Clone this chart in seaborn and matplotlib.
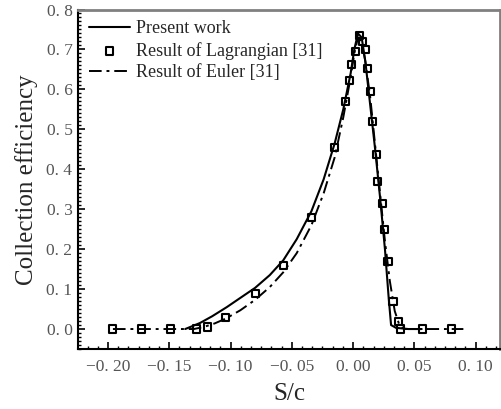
import numpy as np
import pandas as pd
import matplotlib
matplotlib.use("Agg")
import matplotlib.pyplot as plt
from matplotlib.ticker import FixedLocator, AutoMinorLocator, FuncFormatter
import seaborn as sns

# Present work (solid line)
present_s = [-0.137, -0.125, -0.115, -0.103, -0.092, -0.080, -0.068, -0.057,
             -0.046, -0.034, -0.024, -0.015, -0.008, -0.002, 0.001, 0.004,
             0.007, 0.010, 0.014, 0.018, 0.022, 0.026, 0.029, 0.031, 0.035,
             0.045, 0.056]
present_beta = [0.0, 0.015, 0.032, 0.055, 0.078, 0.103, 0.135, 0.172,
                0.225, 0.295, 0.375, 0.465, 0.55, 0.64, 0.70, 0.74,
                0.73, 0.67, 0.56, 0.45, 0.33, 0.20, 0.08, 0.01, 0.003,
                0.0, 0.0]

# Lagrangian reference results (open squares)
lag_s = [-0.196, -0.173, -0.149, -0.128, -0.119, -0.104, -0.080, -0.057, -0.034,
         -0.015, -0.0065, -0.003, -0.001, 0.0016, 0.005, 0.008, 0.010, 0.012,
         0.014, 0.016, 0.019, 0.020, 0.024, 0.026, 0.0285, 0.0326, 0.0367,
         0.039, 0.057, 0.080]
lag_beta = [0.0, 0.0, 0.0, 0.0, 0.005, 0.03, 0.09, 0.16, 0.28,
            0.455, 0.57, 0.622, 0.662, 0.695, 0.735, 0.72, 0.70, 0.652,
            0.595, 0.52, 0.4375, 0.37, 0.315, 0.25, 0.168, 0.07, 0.02,
            0.0, 0.0, 0.0]

# Eulerian reference results (dash-dot line)
euler_s = [-0.196, -0.13, -0.122, -0.113, -0.104, -0.092, -0.080, -0.068,
           -0.057, -0.046, -0.034, -0.024, -0.015, -0.008, -0.002, 0.001,
           0.004, 0.007, 0.010, 0.014, 0.018, 0.022, 0.026, 0.030, 0.034,
           0.038, 0.042, 0.09]
euler_beta = [0.0, 0.0, 0.005, 0.014, 0.026, 0.047, 0.073, 0.105,
              0.142, 0.19, 0.26, 0.34, 0.43, 0.53, 0.63, 0.69,
              0.73, 0.72, 0.67, 0.58, 0.46, 0.34, 0.22, 0.12, 0.045,
              0.008, 0.0, 0.0]

x_ticks = [-0.20, -0.15, -0.10, -0.05, 0.00, 0.05, 0.10]
y_ticks = [0.0, 0.1, 0.2, 0.3, 0.4, 0.5, 0.6, 0.7, 0.8]

sns.set_style("ticks")
plt.rcParams["font.family"] = ["Liberation Serif", "DejaVu Serif"]

fig = plt.figure(figsize=(5.01, 4.09), dpi=100)
ax = fig.add_axes([78 / 501, 1 - 349 / 409, 422 / 501, 339.5 / 409])

df_present = pd.DataFrame({"s": present_s, "beta": present_beta})
df_lag = pd.DataFrame({"s": lag_s, "beta": lag_beta})
df_euler = pd.DataFrame({"s": euler_s, "beta": euler_beta})

sns.lineplot(data=df_present, x="s", y="beta", ax=ax, color="black", lw=1.5,
             sort=False, label="Present work")
sns.scatterplot(data=df_lag, x="s", y="beta", ax=ax, marker="s", s=26,
                facecolor="none", edgecolor="black", linewidth=1.5,
                label="Result of Lagrangian [31]", zorder=3)
sns.lineplot(data=df_euler, x="s", y="beta", ax=ax, color="black", lw=1.4,
             sort=False, linestyle=(0, (6.5, 2.5, 1.5, 2.5)),
             label="Result of Euler [31]")

ax.set_xlim(-0.2245, 0.1199)
ax.set_ylim(-0.05, 0.80)

ax.xaxis.set_major_locator(FixedLocator(x_ticks))
ax.yaxis.set_major_locator(FixedLocator(y_ticks))
ax.xaxis.set_minor_locator(AutoMinorLocator(6))
ax.yaxis.set_minor_locator(AutoMinorLocator(10))


def fmt_x(v, pos):
    txt = f"{abs(v):.2f}".replace(".", ". ")
    return ("\u2212" + txt) if v < -1e-9 else txt


def fmt_y(v, pos):
    return f"{v:.1f}".replace(".", ". ")


ax.xaxis.set_major_formatter(FuncFormatter(fmt_x))
ax.yaxis.set_major_formatter(FuncFormatter(fmt_y))

ax.tick_params(axis="both", which="major", direction="in", length=5, width=1.2,
               labelsize=12.5, labelcolor="#555555", color="black")
ax.tick_params(axis="both", which="minor", direction="in", length=2.5, width=1.0,
               color="black")
ax.tick_params(axis="x", which="major", pad=7)
ax.tick_params(axis="y", which="major", pad=4)

for side in ("left", "bottom"):
    ax.spines[side].set_color("black")
    ax.spines[side].set_linewidth(1.5)
for side in ("top", "right"):
    ax.spines[side].set_color("#808080")
    ax.spines[side].set_linewidth(2.0)

ax.set_xlabel("S/c", fontsize=18, labelpad=6)
ax.set_ylabel("Collection efficiency", fontsize=18, labelpad=6)

leg = ax.legend(loc="upper left", frameon=False, fontsize=13,
                handlelength=2.3, handletextpad=0.3, labelspacing=0.25,
                borderaxespad=0.3, borderpad=0.3)

fig.savefig("out.png", dpi=100)
